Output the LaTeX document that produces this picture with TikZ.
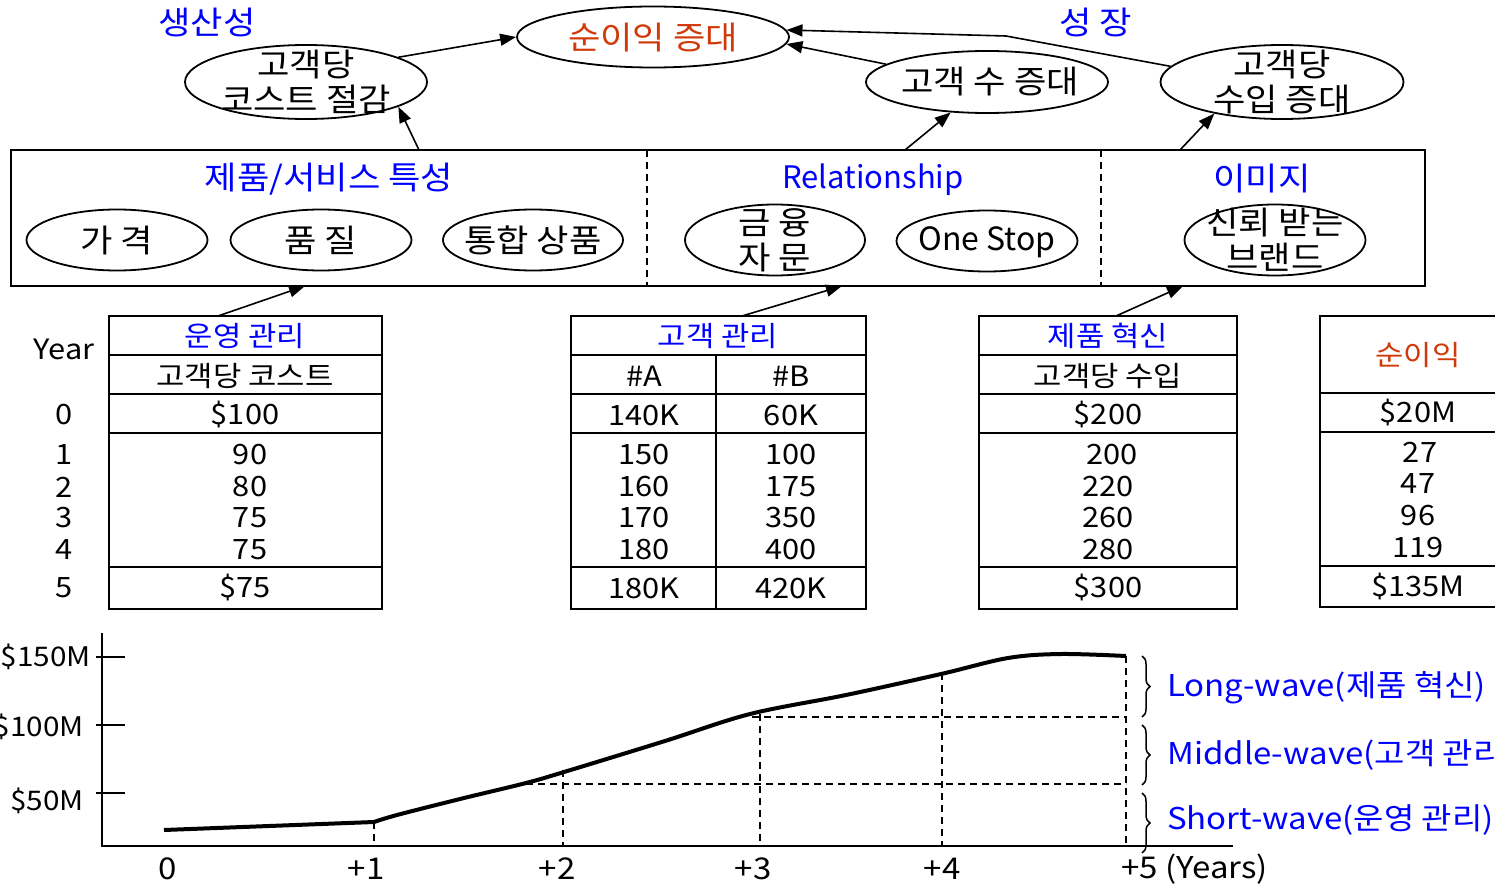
\documentclass[tikz,border=0pt]{standalone}
\usepackage{fontspec}
\setmainfont{Noto Sans CJK KR}[FakeStretch=1.1]
\newfontfamily\latn{Noto Sans CJK KR}
\usetikzlibrary{arrows.meta,shapes.geometric,decorations.pathreplacing,calc}
\definecolor{kblue}{RGB}{0,0,255}
\definecolor{korange}{RGB}{208,58,10}
\begin{document}
\begin{tikzpicture}[x=1pt,y=-1pt,
  oval/.style={ellipse,draw,line width=1.8pt,inner sep=0pt},
  big/.style={font=\fontsize{32}{35}\selectfont,inner sep=0pt,align=center},
  lat/.style={font=\fontsize{31}{35}\selectfont\latn,inner sep=0pt},
  wave/.style={font=\fontsize{30}{35}\selectfont,inner sep=0pt,text=kblue,anchor=west},
  tab/.style={font=\fontsize{28}{32}\selectfont,inner sep=0pt},
  ylab/.style={font=\fontsize{27}{32}\selectfont,inner sep=0pt,anchor=east},
  axl/.style={font=\fontsize{30}{34}\selectfont,inner sep=0pt},
  arr/.style={line width=1.6pt,-{Triangle[length=16pt,width=12pt]}},
  thk/.style={line width=2.6pt},
  dsh/.style={line width=1.4pt,dash pattern=on 7pt off 5pt},
  brc/.style={line width=1.5pt,decorate,decoration={brace,amplitude=8pt}},
]
\useasboundingbox (0,0) rectangle (1495,885);

% ---------- top level ----------
\node[big,text=kblue] (hProd) at (207,22) {생산성};
\node[big,text=kblue] (hGrow) at (1096,22) {성 장};
\node[oval,minimum width=272,minimum height=61] (top) at (653,37) {};
\node[big,text=korange] (topT) at (653,38) {순이익 증대};
\node[oval,minimum width=242,minimum height=74] (c1) at (306,82) {};
\node[big] (c1T) at (306,82) {고객당\\코스트 절감};
\node[oval,minimum width=242,minimum height=62] (c2) at (987,82) {};
\node[big] (c2T) at (990,82) {고객 수 증대};
\node[oval,minimum width=243,minimum height=74] (c3) at (1282,82) {};
\node[big] (c3T) at (1282,82) {고객당\\수입 증대};

\draw[arr] (c1.15) -- (top.west);
\draw[arr] (c2.170) -- (top.-3);
\coordinate (bend) at (1006,36);
\draw[arr] (c3.172) -- (bend) -- (top.3);

% ---------- middle box ----------
\node[draw,thk,minimum width=1414,minimum height=136,inner sep=0pt] (box) at (718,218) {};
\draw[dsh] (647,150) -- (647,286);
\draw[dsh] (1101,150) -- (1101,286);
\node[big,text=kblue] (bh1) at (329,179) {제품/서비스 특성};
\node[lat,text=kblue] (bh2) at (873,180) {Relationship};
\node[big,text=kblue] (bh3) at (1262,179) {이미지};

\node[oval,minimum width=181,minimum height=61] (e1) at (117,240) {};
\node[big] (e1T) at (117,240) {가 격};
\node[oval,minimum width=181,minimum height=61] (e2) at (321,240) {};
\node[big] (e2T) at (321,240) {품 질};
\node[oval,minimum width=180,minimum height=61] (e3) at (533,240) {};
\node[big] (e3T) at (533,240) {통합 상품};
\node[oval,minimum width=180,minimum height=71] (e4) at (775,240) {};
\node[big] (e4T) at (775,240) {금 융\\자 문};
\node[oval,minimum width=181,minimum height=61] (e5) at (987,241) {};
\node[lat,font=\fontsize{32}{35}\selectfont\latn] (e5T) at (987,242) {One Stop};
\node[oval,minimum width=181,minimum height=71] (e6) at (1275,240) {};
\node[big] (e6T) at (1275,240) {신뢰 받는\\브랜드};

\coordinate (b1) at (419,150);
\coordinate (b2) at (905,150);
\coordinate (b3) at (1180,150);
\draw[arr] (b1) -- (c1.-15);
\draw[arr] (b2) -- (c2.220);
\draw[arr] (b3) -- (c3.205);

% ---------- tables ----------
\coordinate (t1a) at (218,316); \coordinate (t1b) at (305,286);
\coordinate (t2a) at (742,316); \coordinate (t2b) at (842,286);
\coordinate (t3a) at (1116,316); \coordinate (t3b) at (1183,286);
\draw[arr] (t1a) -- (t1b);
\draw[arr] (t2a) -- (t2b);
\draw[arr] (t3a) -- (t3b);

\draw[thk] (109,316) rectangle (382,609);
\foreach \yy in {355,394,433,567} \draw[thk] (109,\yy) -- (382,\yy);
\draw[thk] (571,316) rectangle (866,609);
\foreach \yy in {355,394,433,567} \draw[thk] (571,\yy) -- (866,\yy);
\draw[thk] (716,355) -- (716,609);
\draw[thk] (979,316) rectangle (1237,609);
\foreach \yy in {355,394,433,567} \draw[thk] (979,\yy) -- (1237,\yy);
\draw[thk] (1520,316) -- (1320,316) -- (1320,607) -- (1520,607);
\foreach \yy in {393,432,566} \draw[thk] (1320,\yy) -- (1520,\yy);

% year column
\node[tab] (yr) at (64,349) {Year};
\node[tab] (y0) at (64,415) {0};
\node[tab] (y1) at (64,455) {1};
\node[tab] (y2) at (64,487) {2};
\node[tab] (y3) at (64,518) {3};
\node[tab] (y4) at (64,550) {4};
\node[tab] (y5) at (64,588) {5};

% table 1
\node[tab,text=kblue] (t1h) at (245,336) {운영 관리};
\node[tab] (t1s) at (245,376) {고객당 코스트};
\node[tab] (t1r0) at (245,415) {\$100};
\node[tab] (t1r1) at (250,455) {90};
\node[tab] (t1r2) at (250,487) {80};
\node[tab] (t1r3) at (250,518) {75};
\node[tab] (t1r4) at (250,550) {75};
\node[tab] (t1r5) at (245,588) {\$75};

% table 2
\node[tab,text=kblue] (t2h) at (718,336) {고객 관리};
\node[tab] (t2sa) at (644,376) {\#A};
\node[tab] (t2sb) at (791,376) {\#B};
\node[tab] (t2a0) at (644,415) {140K};
\node[tab] (t2b0) at (791,415) {60K};
\node[tab] (t2a1) at (644,455) {150};
\node[tab] (t2b1) at (791,455) {100};
\node[tab] (t2a2) at (644,487) {160};
\node[tab] (t2b2) at (791,487) {175};
\node[tab] (t2a3) at (644,518) {170};
\node[tab] (t2b3) at (791,518) {350};
\node[tab] (t2a4) at (644,550) {180};
\node[tab] (t2b4) at (791,550) {400};
\node[tab] (t2a5) at (644,588) {180K};
\node[tab] (t2b5) at (791,588) {420K};

% table 3
\node[tab,text=kblue] (t3h) at (1108,336) {제품 혁신};
\node[tab] (t3s) at (1108,376) {고객당 수입};
\node[tab] (t3r0) at (1108,415) {\$200};
\node[tab] (t3r1) at (1112,455) {200};
\node[tab] (t3r2) at (1108,487) {220};
\node[tab] (t3r3) at (1108,518) {260};
\node[tab] (t3r4) at (1108,550) {280};
\node[tab] (t3r5) at (1108,588) {\$300};

% table 4
\node[tab,text=korange] (t4h) at (1418,355) {순이익};
\node[tab] (t4r0) at (1418,413) {\$20M};
\node[tab] (t4r1) at (1420,452) {27};
\node[tab] (t4r2) at (1418,484) {47};
\node[tab] (t4r3) at (1418,516) {96};
\node[tab] (t4r4) at (1418,548) {119};
\node[tab] (t4r5) at (1418,587) {\$135M};

% ---------- chart ----------
\draw[line width=2pt] (102,633) -- (102,846) -- (1233,846);
\foreach \yy in {657,725,793} \draw[line width=2pt] (96,\yy) -- (125,\yy);
\node[ylab] (l150) at (91,657) {\$150M};
\node[ylab] (l100) at (84,727) {\$100M};
\node[ylab] (l50) at (84,801) {\$50M};

\node[axl] (x0) at (168,869) {0};
\node[axl] (x1) at (366,869) {+1};
\node[axl] (x2) at (557,869) {+2};
\node[axl] (x3) at (753,869) {+3};
\node[axl] (x4) at (942,869) {+4};
\node[axl,anchor=west] (x5) at (1121,869) {+5 (Years)};

\draw[dsh] (374,822) -- (374,846);
\draw[dsh] (563,770) -- (563,846);
\draw[dsh] (760,714) -- (760,846);
\draw[dsh] (942,673) -- (942,846);
\draw[dsh] (1126,656) -- (1126,846);
\draw[dsh] (526,784) -- (1126,784);
\draw[dsh] (752,717) -- (1126,717);

\draw[line width=4pt,line join=round] (164,830) -- (374,822);
\draw[line width=4pt,line join=round] plot[smooth,tension=0.55] coordinates
  {(374,822) (397,815) (460,799) (526,783) (564,772) (665,741) (750,714)
   (846,695) (941,674) (1008,658) (1061,654) (1126,656)};

\draw[brc] (1142,656) -- (1142,717);
\draw[brc] (1142,725) -- (1142,785);
\draw[brc] (1142,793) -- (1142,853);
\node[wave] (w1) at (1167,688) {Long-wave(제품 혁신)};
\node[wave] (w2) at (1167,755) {Middle-wave(고객 관리)};
\node[wave] (w3) at (1167,820) {Short-wave(운영 관리)};
\end{tikzpicture}
\end{document}
